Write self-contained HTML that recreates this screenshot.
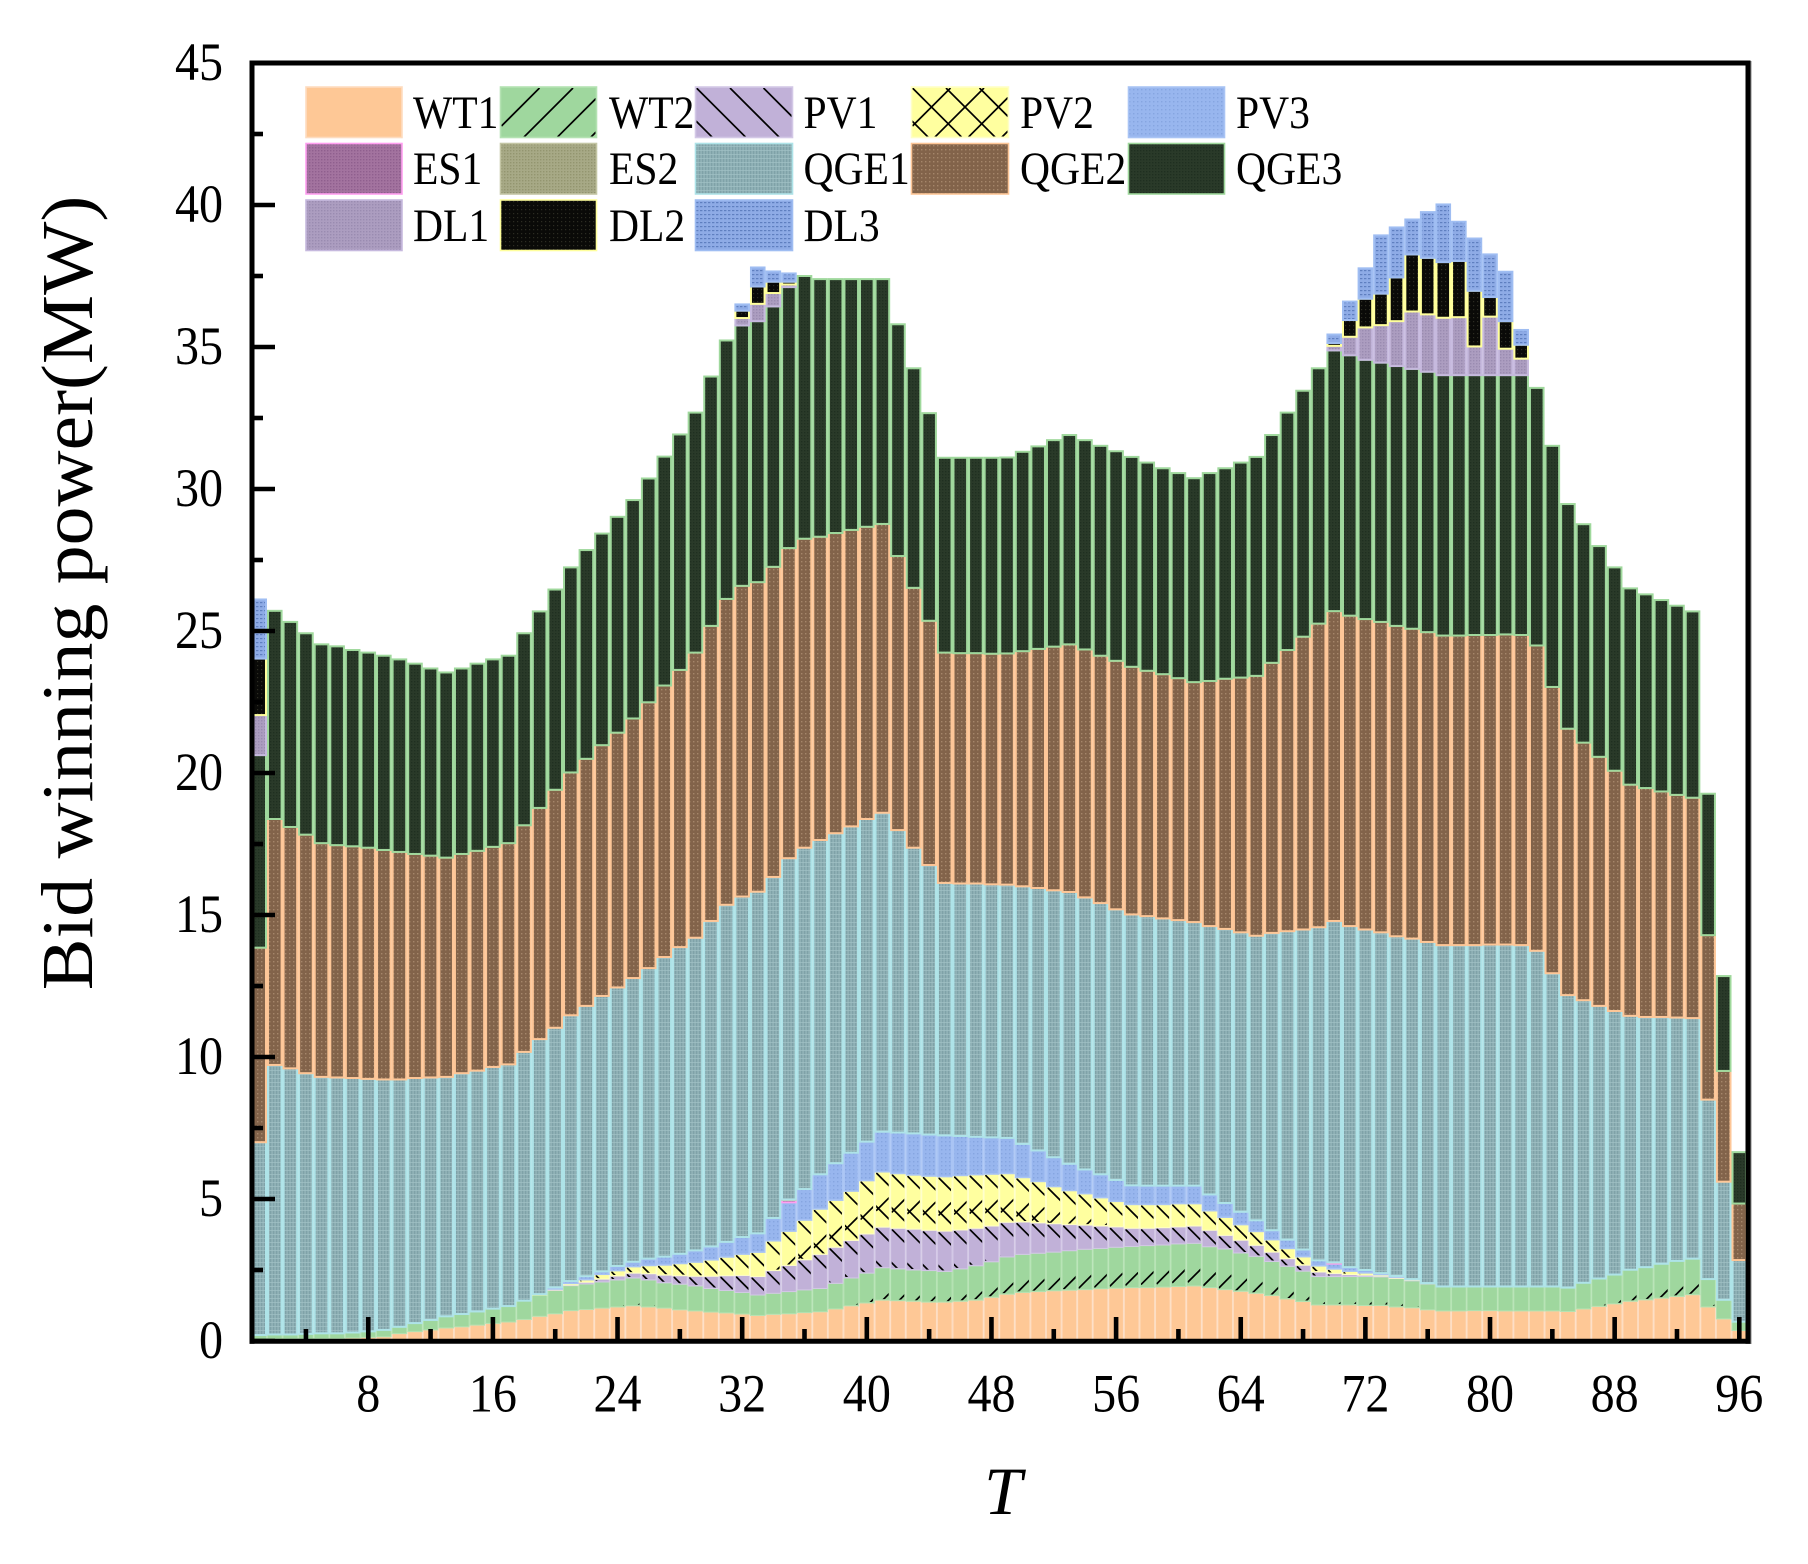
<!DOCTYPE html>
<html lang="en">
<head>
<meta charset="utf-8">
<title>Bid winning power</title>
<style>
html,body{margin:0;padding:0;background:#fff;}
svg{display:block;}
text{font-family:"Liberation Serif","DejaVu Serif",serif;fill:#000;}
</style>
</head>
<body>
<svg id="chart" xmlns="http://www.w3.org/2000/svg" width="1808" height="1564" viewBox="0 0 1808 1564">
  <defs>
    <clipPath id="plot-clip"><rect x="252" y="63" width="1496" height="1278"/></clipPath>
    <pattern id="tx-pv3" width="4" height="4" patternUnits="userSpaceOnUse"><rect width="4" height="4" fill="#98b6ee"/><rect x="1" y="1" width="1.4" height="1.4" fill="#86a5e0"/></pattern>
    <pattern id="tx-es1" width="3" height="3" patternUnits="userSpaceOnUse"><rect width="3" height="3" fill="#a3739f"/><rect width="1.4" height="1.4" fill="#8f5f8e"/></pattern>
    <pattern id="tx-es2" width="3" height="3" patternUnits="userSpaceOnUse"><rect width="3" height="3" fill="#a7a986"/><rect width="1.4" height="1.4" fill="#93956f"/></pattern>
    <pattern id="tx-qge1" width="3" height="4" patternUnits="userSpaceOnUse"><rect width="3" height="4" fill="#90b1b6"/><rect width="1.2" height="4" fill="#7fa2a8"/><rect y="2" width="3" height="1" fill="#a2c2c6" opacity=".7"/></pattern>
    <pattern id="tx-qge2" width="4" height="4" patternUnits="userSpaceOnUse"><rect width="4" height="4" fill="#82634a"/><rect x="1" y="1" width="1.4" height="1.4" fill="#a5866a"/></pattern>
    <pattern id="tx-qge3" width="3" height="3" patternUnits="userSpaceOnUse"><rect width="3" height="3" fill="#2a3a29"/><rect width="1.4" height="1.4" fill="#1f2f20"/></pattern>
    <pattern id="tx-dl1" width="3" height="3" patternUnits="userSpaceOnUse"><rect width="3" height="3" fill="#ac9dc0"/><rect width="1.4" height="1.4" fill="#9a8bb0"/></pattern>
    <pattern id="tx-dl2" width="4" height="4" patternUnits="userSpaceOnUse"><rect width="4" height="4" fill="#0a0a08"/><rect x="1" y="1" width="1.2" height="1.2" fill="#2c2c22"/></pattern>
    <pattern id="tx-dl3" width="4" height="4" patternUnits="userSpaceOnUse"><rect width="4" height="4" fill="#8eabe6"/><rect y="2" width="2.4" height="1.2" fill="#5f7fc0"/></pattern>
  </defs>
  <rect width="1808" height="1564" fill="#ffffff"/>
  <g id="bars" clip-path="url(#plot-clip)"></g>
  <g id="axes"></g>
  <g id="legend"></g>
  <text transform="translate(92,593) rotate(-90) scale(1.065,1)" text-anchor="middle" font-size="73">Bid winning power(MW)</text>
  <text x="1003" y="1514" text-anchor="middle" font-size="68" font-style="italic">T</text>
</svg>
<script>
// ----- chart data (MW per period) -----
const periods = [
  1,2,3,4,5,6,7,8,9,10,11,12,13,14,15,16,17,18,19,20,21,22,23,24,25,26,27,28,29,30,31,32,
  33,34,35,36,37,38,39,40,41,42,43,44,45,46,47,48,49,50,51,52,53,54,55,56,57,58,59,60,61,62,63,64,
  65,66,67,68,69,70,71,72,73,74,75,76,77,78,79,80,81,82,83,84,85,86,87,88,89,90,91,92,93,94,95,96
];
const wt1 = [
  .05,.08,.08,.08,.09,.09,.11,.13,.15,.26,
  .33,.39,.46,.5,.56,.62,.67,.76,.87,.96,
  1.07,1.11,1.16,1.2,1.24,1.2,1.16,1.1,1.06,1.02,
  .99,.95,.9,.94,.96,1.0,1.03,1.13,1.24,1.34,
  1.44,1.42,1.4,1.37,1.37,1.4,1.44,1.54,1.65,1.71,
  1.74,1.77,1.79,1.81,1.84,1.86,1.88,1.88,1.9,1.92,
  1.94,1.88,1.81,1.75,1.68,1.6,1.48,1.39,1.27,1.27,
  1.27,1.25,1.25,1.2,1.17,1.1,1.06,1.06,1.07,1.07,
  1.06,1.06,1.06,1.06,1.04,1.13,1.22,1.31,1.4,1.45,
  1.51,1.57,1.63,1.2,.78,.37
];
const wt2 = [
  .16,.15,.15,.17,.18,.18,.19,.21,.24,.24,
  .3,.35,.41,.45,.48,.52,.56,.66,.75,.82,
  .88,.9,.92,.95,.98,.95,.89,.9,.88,.83,
  .79,.76,.72,.74,.78,.8,.82,.9,.98,1.05,
  1.14,1.12,1.1,1.11,1.08,1.14,1.21,1.25,1.31,1.34,
  1.35,1.36,1.39,1.42,1.42,1.44,1.45,1.48,1.48,1.5,
  1.5,1.44,1.43,1.35,1.3,1.2,1.15,1.07,1.0,1.0,
  1.0,1.02,1.01,1.0,.95,.91,.86,.86,.85,.85,
  .86,.86,.86,.86,.84,.92,.98,1.03,1.11,1.15,
  1.21,1.25,1.27,.98,.67,.31
];
const pv1 = [
  0,0,0,0,0,0,0,0,0,0,
  0,0,0,0,0,0,0,0,0,.02,
  .02,.06,.1,.14,.17,.22,.27,.3,.34,.43,
  .52,.6,.65,.8,.92,1.06,1.2,1.27,1.32,1.38,
  1.43,1.43,1.44,1.42,1.42,1.37,1.32,1.26,1.22,1.14,
  1.07,1.0,.92,.85,.79,.72,.64,.61,.61,.6,
  .61,.58,.48,.45,.39,.33,.27,.21,.16,.11,
  .07,.05,.03,.01,.01,.01,0,0,0,0,
  0,0,0,0,0,0,0,0,0,0,
  0,0,0,0,0,0
];
const pv2 = [
  0,0,0,0,0,0,0,0,0,0,
  0,0,0,0,0,0,0,0,.03,.03,
  .06,.09,.17,.19,.23,.29,.36,.43,.5,.58,
  .66,.75,.86,1.05,1.21,1.4,1.6,1.66,1.74,1.88,
  1.95,1.93,1.91,1.91,1.92,1.92,1.89,1.83,1.72,1.57,
  1.46,1.31,1.2,1.11,1.0,.9,.84,.84,.82,.82,
  .79,.69,.64,.55,.49,.44,.36,.3,.22,.16,
  .12,.08,.05,.04,.03,.01,0,0,0,0,
  0,0,0,0,0,0,0,0,0,0,
  0,0,0,0,0,0
];
const pv3 = [
  0,0,0,0,0,0,0,0,0,0,
  0,0,0,0,0,0,0,0,0,.06,
  .08,.12,.1,.16,.17,.24,.29,.34,.41,.47,
  .53,.6,.66,.8,1.01,1.09,1.22,1.3,1.35,1.37,
  1.41,1.44,1.46,1.46,1.45,1.39,1.33,1.29,1.25,1.18,
  1.09,1.03,.94,.85,.82,.75,.67,.66,.66,.63,
  .63,.57,.5,.45,.39,.33,.31,.25,.19,.18,
  .14,.1,.05,.04,.02,.01,0,0,0,0,
  0,0,0,0,0,0,0,0,0,0,
  0,0,0,0,0,0
];
const es1 = [
  0,0,0,0,0,0,0,0,0,0,
  0,0,0,0,0,0,0,0,0,0,
  0,0,0,0,0,0,0,0,0,0,
  0,0,0,0,.08,0,0,0,0,0,
  0,0,0,0,0,0,0,0,0,0,
  0,0,0,0,0,0,0,0,0,0,
  0,0,0,0,0,0,0,0,0,.04,
  0,0,0,0,0,0,0,0,0,0,
  0,0,0,0,0,0,0,0,0,0,
  0,0,0,0,0,0
];
const es2 = [
  0,0,0,0,0,0,0,0,0,0,
  0,0,0,0,0,0,0,0,0,0,
  0,0,0,0,0,0,0,0,0,0,
  0,0,0,0,.02,0,0,0,0,0,
  0,0,0,0,0,0,0,0,0,0,
  0,0,0,0,0,0,0,0,0,0,
  0,0,0,0,0,0,0,0,0,.01,
  0,0,0,0,0,0,0,0,0,0,
  0,0,0,0,0,0,0,0,0,0,
  0,0,0,0,0,0
];
const qge1 = [
  6.79,9.49,9.37,9.18,9.03,9.01,8.96,8.89,8.82,8.71,
  8.63,8.54,8.43,8.48,8.48,8.51,8.51,8.76,8.98,9.14,
  9.36,9.52,9.7,9.81,9.99,10.23,10.55,10.8,11.01,11.46,
  11.87,11.99,12.03,12.01,12.02,12.02,11.77,11.62,11.49,11.36,
  11.23,10.65,10.06,9.49,8.89,8.89,8.92,8.91,8.92,9.07,
  9.24,9.4,9.57,9.58,9.55,9.53,9.54,9.49,9.41,9.35,
  9.28,9.45,9.65,9.84,10.02,10.47,10.86,11.27,11.73,12.02,
  12.01,11.99,12.0,11.96,11.99,12.01,12.02,12.02,12.02,12.04,
  12.04,12.02,11.82,11.03,10.3,9.95,9.6,9.28,8.94,8.81,
  8.69,8.57,8.47,6.32,4.16,2.17
];
const qge2 = [
  6.85,8.66,8.5,8.4,8.23,8.18,8.16,8.14,8.08,8.01,
  7.89,7.81,7.72,7.72,7.74,7.75,7.79,7.98,8.14,8.38,
  8.55,8.7,8.83,8.97,9.14,9.36,9.56,9.76,10.04,10.39,
  10.77,10.94,10.9,10.92,10.92,10.88,10.68,10.57,10.44,10.29,
  10.17,9.65,9.15,8.6,8.11,8.11,8.11,8.12,8.14,8.28,
  8.42,8.58,8.72,8.73,8.71,8.75,8.72,8.64,8.6,8.52,
  8.45,8.63,8.81,8.97,9.15,9.51,9.9,10.31,10.69,10.91,
  10.93,10.93,10.93,10.93,10.91,10.91,10.9,10.9,10.92,10.9,
  10.92,10.92,10.75,10.08,9.38,9.07,8.77,8.46,8.14,8.06,
  7.94,7.84,7.76,5.79,3.9,1.99
];
const qge3 = [
  6.78,7.33,7.22,7.09,7.0,7.0,6.91,6.87,6.84,6.78,
  6.7,6.59,6.52,6.53,6.59,6.6,6.6,6.76,6.92,7.05,
  7.22,7.35,7.45,7.6,7.69,7.88,8.06,8.29,8.45,8.78,
  9.1,9.17,9.19,9.17,9.19,9.25,9.07,8.94,8.83,8.72,
  8.62,8.16,7.73,7.31,6.86,6.88,6.88,6.9,6.9,7.02,
  7.13,7.27,7.37,7.37,7.39,7.38,7.39,7.33,7.25,7.22,
  7.18,7.32,7.41,7.57,7.71,8.02,8.36,8.66,8.99,9.18,
  9.17,9.13,9.13,9.15,9.15,9.17,9.17,9.17,9.15,9.15,
  9.13,9.15,9.07,8.49,7.91,7.69,7.42,7.16,6.91,6.82,
  6.74,6.66,6.56,4.98,3.34,1.81
];
const dl1 = [
  1.41,0,0,0,0,0,0,0,0,0,
  0,0,0,0,0,0,0,0,0,0,
  0,0,0,0,0,0,0,0,0,0,
  0,.26,.61,.47,.09,0,0,0,0,0,
  0,0,0,0,0,0,0,0,0,0,
  0,0,0,0,0,0,0,0,0,0,
  0,0,0,0,0,0,0,0,0,.16,
  .65,1.14,1.32,1.58,2.02,2.02,2.02,2.04,1.01,2.06,
  .93,.58,0,0,0,0,0,0,0,0,
  0,0,0,0,0,0
];
const dl2 = [
  1.99,0,0,0,0,0,0,0,0,0,
  0,0,0,0,0,0,0,0,0,0,
  0,0,0,0,0,0,0,0,0,0,
  0,.26,.61,.4,.1,0,0,0,0,0,
  0,0,0,0,0,0,0,0,0,0,
  0,0,0,0,0,0,0,0,0,0,
  0,0,0,0,0,0,0,0,0,.1,
  .59,1.01,1.11,1.54,2.01,1.99,1.96,1.98,1.96,.69,
  .97,.49,0,0,0,0,0,0,0,0,
  0,0,0,0,0,0
];
const dl3 = [
  2.08,0,0,0,0,0,0,0,0,0,
  0,0,0,0,0,0,0,0,0,0,
  0,0,0,0,0,0,0,0,0,0,
  0,.22,.67,.36,.29,0,0,0,0,0,
  0,0,0,0,0,0,0,0,0,0,
  0,0,0,0,0,0,0,0,0,0,
  0,0,0,0,0,0,0,0,0,.3,
  .65,1.07,2.05,1.76,1.23,1.61,2.03,1.38,1.84,1.5,
  1.74,.52,0,0,0,0,0,0,0,0,
  0,0,0,0,0,0
];
const seriesNames = ['WT1','WT2','PV1','PV2','PV3','ES1','ES2','QGE1','QGE2','QGE3','DL1','DL2','DL3'];
const seriesValues = [wt1,wt2,pv1,pv2,pv3,es1,es2,qge1,qge2,qge3,dl1,dl2,dl3];
const xTickLabels = [8,16,24,32,40,48,56,64,72,80,88,96];
const xMinorTicks = [4,12,20,28,36,44,52,60,68,76,84,92];
const yTickLabels = [0,5,10,15,20,25,30,35,40,45];
const yMinorTicks = [2.5,7.5,12.5,17.5,22.5,27.5,32.5,37.5,42.5];

// ----- presentation -----
const NS = 'http://www.w3.org/2000/svg';
const seriesFill = ['#fec896','#9fd79e','#c1b1d8','#ffff9f','url(#tx-pv3)','url(#tx-es1)','url(#tx-es2)','url(#tx-qge1)','url(#tx-qge2)','url(#tx-qge3)','url(#tx-dl1)','url(#tx-dl2)','url(#tx-dl3)'];
const seriesStroke = ['#fddcc0','#b4e2b2','#d3c8e6','#ffffc6','#a9c4f4','#ff9ff0','#c3c5a4','#aee3e8','#fdc697','#9fd89c','#c6b9de','#ffff9c','#9fbdf2'];
const seriesStrokeW = [1,1,1,1,1.6,1.8,1.8,2,2,2,2,2,2];
const seriesHatch = [null,'slash','back','cross',null,null,null,null,null,null,null,null,null];
const X0 = 259.2, XSTEP = 15.58, Y0 = 1341, YUNIT = 28.4;
function xScale(t){ return X0 + XSTEP * (t - 1); }
function yScale(v){ return Y0 - YUNIT * v; }

function addHatch(parent, kind, x, y, w, h){
  if (!kind || w <= 2 || h <= 2) return;
  const box = document.createElementNS(NS,'svg');
  
  
  box.setAttribute('x', x + 1);
  box.setAttribute('y', y + 1);
  box.setAttribute('width', w - 2);
  box.setAttribute('height', h - 2);
  const P = 33.5;
  const segs = [];
  for (let k = -4; k <= 6; k++){
    if (kind === 'slash' || kind === 'cross'){
      const c = 38 + P * k;
      if (c > 10) segs.push([c,0,0,c]);
    }
    if (kind === 'back' || kind === 'cross'){
      const c = P * k;
      segs.push([c,0,c + 140,140]);
    }
  }
  segs.forEach(function(s){
    const ln = document.createElementNS(NS,'line');
    
    
    ln.setAttribute('x1', s[0]);
    ln.setAttribute('y1', s[1]);
    ln.setAttribute('x2', s[2]);
    ln.setAttribute('y2', s[3]);
    ln.setAttribute('stroke','#000');
    ln.setAttribute('stroke-width','1.7');
    box.appendChild(ln);
  });
  parent.appendChild(box);
}

// ----- stacked bars -----
const barsLayer = document.getElementById('bars');
const stackBase = periods.map(function(){ return 0; });
seriesValues.forEach(function(values, s){
  const g = document.createElementNS(NS,'g');
  
  
  const sw = seriesStrokeW[s];
  periods.forEach(function(t, i){
    const v = values[i];
    if (!(v > 0)) return;
    const top = yScale(stackBase[i] + v);
    const bottom = yScale(stackBase[i]);
    stackBase[i] += v;
    const x = xScale(t) - XSTEP / 2 + sw / 2;
    const w = XSTEP - sw;
    const r = document.createElementNS(NS,'rect');
    
    
    r.setAttribute('x', x);
    r.setAttribute('y', top);
    r.setAttribute('width', w);
    r.setAttribute('height', bottom - top);
    r.setAttribute('fill', seriesFill[s]);
    r.setAttribute('stroke', seriesStroke[s]);
    r.setAttribute('stroke-width', sw);
    g.appendChild(r);
    addHatch(g, seriesHatch[s], x, top, w, bottom - top);
  });
  barsLayer.appendChild(g);
});

// ----- axes -----
const axes = document.getElementById('axes');
function addLine(name, x1, y1, x2, y2, width, color){
  const l = document.createElementNS(NS,'line');
  
  
  l.setAttribute('x1', x1);
  l.setAttribute('y1', y1);
  l.setAttribute('x2', x2);
  l.setAttribute('y2', y2);
  l.setAttribute('stroke', color || '#000');
  l.setAttribute('stroke-width', width);
  axes.appendChild(l);
}
function addTick(name, txt, x, y, anchor){
  const t = document.createElementNS(NS,'text');
  
  
  t.setAttribute('transform','translate(' + x + ',' + y + ') scale(.89,1)');
  t.setAttribute('text-anchor', anchor);
  t.setAttribute('font-size','54');
  t.textContent = txt;
  axes.appendChild(t);
}
addLine('right-edge-shadow',1751,61,1751,1344,1,'#8a8a8a');
addLine('y-axis-line',252,60.5,252,1343.8,5);
addLine('x-axis-line',249.5,1341.3,1750.5,1341.3,5);
addLine('top-axis-line',249.5,63,1750.5,63,5);
addLine('right-axis-line',1748,60.5,1748,1343.8,5);
yTickLabels.forEach(function(v){
  addLine('y-tick-' + v,252,yScale(v),275,yScale(v),4.6);
  addTick('y-tick-label-' + v,String(v),223,yScale(v) + 17,'end');
});
yMinorTicks.forEach(function(v){
  addLine('y-minor-tick-' + v,252,yScale(v),263,yScale(v),4.6);
});
xTickLabels.forEach(function(v){
  addLine('x-tick-' + v,xScale(v),1341,xScale(v),1317,4.6);
  addTick('x-tick-label-' + v,String(v),xScale(v),1411.5,'middle');
});
xMinorTicks.forEach(function(v){
  addLine('x-minor-tick-' + v,xScale(v),1341,xScale(v),1329,4.6);
});

// ----- legend -----
const legend = document.getElementById('legend');
const legendSwatchX = [306,500.5,695.5,911.5,1128.5];
const legendSwatchW = [96,96,97,97,96];
const legendTextX = [413,609,803.5,1020,1236];
const legendSwatchY = [87,143.5,200];
const legendTextY = [128,184,241];
seriesNames.forEach(function(name, s){
  const col = s % 5;
  const row = Math.floor(s / 5);
  const sw = document.createElementNS(NS,'rect');
  
  
  sw.setAttribute('x', legendSwatchX[col]);
  sw.setAttribute('y', legendSwatchY[row]);
  sw.setAttribute('width', legendSwatchW[col]);
  sw.setAttribute('height', 50.5);
  sw.setAttribute('fill', seriesFill[s]);
  sw.setAttribute('stroke', seriesStroke[s]);
  sw.setAttribute('stroke-width', 1.6);
  legend.appendChild(sw);
  addHatch(legend, seriesHatch[s], legendSwatchX[col], legendSwatchY[row], legendSwatchW[col], 50.5);
  const tx = document.createElementNS(NS,'text');
  
  
  tx.setAttribute('transform','translate(' + legendTextX[col] + ',' + legendTextY[row] + ') scale(.885,1)');
  tx.setAttribute('font-size','47');
  tx.textContent = name;
  legend.appendChild(tx);
});
</script>
</body>
</html>
